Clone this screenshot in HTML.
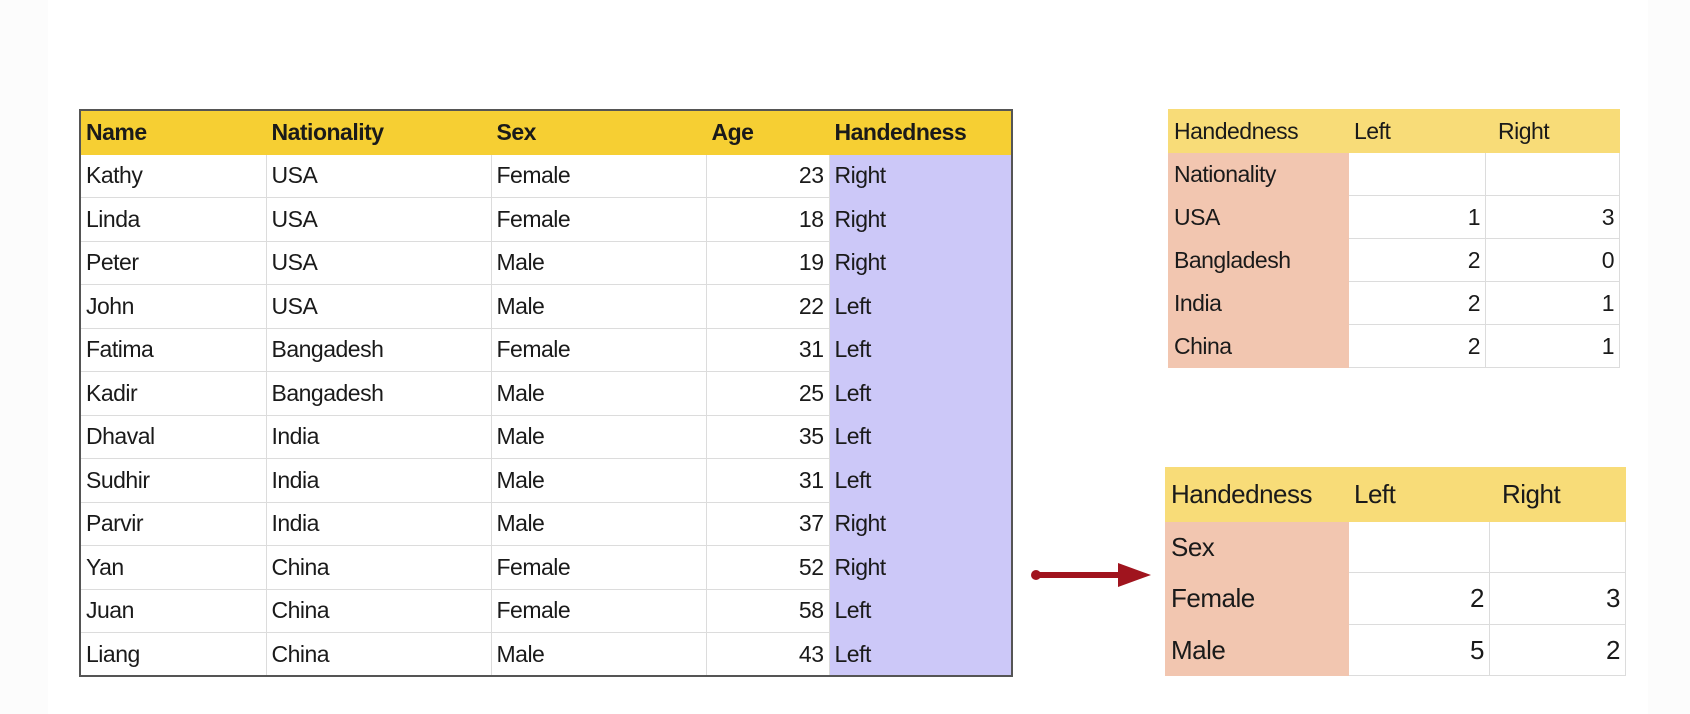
<!DOCTYPE html>
<html><head><meta charset="utf-8"><style>
body{margin:0;width:1690px;height:714px;background:#fcfcfc;position:relative;overflow:hidden;font-family:"Liberation Sans",sans-serif;color:#1a1a1a}
.t{position:absolute;border-collapse:collapse;table-layout:fixed}
.t td{padding:0 5px;font-size:23px;border:1.5px solid #dcdcdc;white-space:nowrap;overflow:hidden;letter-spacing:-0.5px}
.r{text-align:right}
</style></head><body>
<div style="position:absolute;left:48px;top:0;width:1600px;height:714px;background:#fff"></div>

<table class="t" style="left:79px;top:109px;width:932px;border:2px solid #555">
<colgroup><col style="width:186px"><col style="width:225px"><col style="width:215px"><col style="width:123px"><col style="width:183px"></colgroup>
<tr style="height:44px;background:#f6cf33;font-weight:bold"><td style="font-weight:bold;border-color:#f6cf33">Name</td><td style="font-weight:bold;border-color:#f6cf33">Nationality</td><td style="font-weight:bold;border-color:#f6cf33">Sex</td><td style="font-weight:bold;border-color:#f6cf33">Age</td><td style="font-weight:bold;border-color:#f6cf33">Handedness</td></tr>
<tr style="height:43.5px"><td>Kathy</td><td>USA</td><td>Female</td><td class="r">23</td><td style="background:#ccc8f8;border-color:#ccc8f8">Right</td></tr>
<tr style="height:43.5px"><td>Linda</td><td>USA</td><td>Female</td><td class="r">18</td><td style="background:#ccc8f8;border-color:#ccc8f8">Right</td></tr>
<tr style="height:43.5px"><td>Peter</td><td>USA</td><td>Male</td><td class="r">19</td><td style="background:#ccc8f8;border-color:#ccc8f8">Right</td></tr>
<tr style="height:43.5px"><td>John</td><td>USA</td><td>Male</td><td class="r">22</td><td style="background:#ccc8f8;border-color:#ccc8f8">Left</td></tr>
<tr style="height:43.5px"><td>Fatima</td><td>Bangadesh</td><td>Female</td><td class="r">31</td><td style="background:#ccc8f8;border-color:#ccc8f8">Left</td></tr>
<tr style="height:43.5px"><td>Kadir</td><td>Bangadesh</td><td>Male</td><td class="r">25</td><td style="background:#ccc8f8;border-color:#ccc8f8">Left</td></tr>
<tr style="height:43.5px"><td>Dhaval</td><td>India</td><td>Male</td><td class="r">35</td><td style="background:#ccc8f8;border-color:#ccc8f8">Left</td></tr>
<tr style="height:43.5px"><td>Sudhir</td><td>India</td><td>Male</td><td class="r">31</td><td style="background:#ccc8f8;border-color:#ccc8f8">Left</td></tr>
<tr style="height:43.5px"><td>Parvir</td><td>India</td><td>Male</td><td class="r">37</td><td style="background:#ccc8f8;border-color:#ccc8f8">Right</td></tr>
<tr style="height:43.5px"><td>Yan</td><td>China</td><td>Female</td><td class="r">52</td><td style="background:#ccc8f8;border-color:#ccc8f8">Right</td></tr>
<tr style="height:43.5px"><td>Juan</td><td>China</td><td>Female</td><td class="r">58</td><td style="background:#ccc8f8;border-color:#ccc8f8">Left</td></tr>
<tr style="height:43.5px"><td>Liang</td><td>China</td><td>Male</td><td class="r">43</td><td style="background:#ccc8f8;border-color:#ccc8f8">Left</td></tr>
</table>

<table class="t" style="left:1168px;top:109px;width:451px">
<colgroup><col style="width:180px"><col style="width:137px"><col style="width:134px"></colgroup>
<tr style="height:43px;background:#f8dc78"><td style="border-color:#f8dc78">Handedness</td><td style="border-color:#f8dc78">Left</td><td style="border-color:#f8dc78;padding-left:12px">Right</td></tr>
<tr style="height:43px"><td style="background:#f2c6b0;border-color:#f2c6b0">Nationality</td><td></td><td></td></tr>
<tr style="height:43px"><td style="background:#f2c6b0;border-color:#f2c6b0">USA</td><td class="r">1</td><td class="r">3</td></tr>
<tr style="height:43px"><td style="background:#f2c6b0;border-color:#f2c6b0">Bangladesh</td><td class="r">2</td><td class="r">0</td></tr>
<tr style="height:43px"><td style="background:#f2c6b0;border-color:#f2c6b0">India</td><td class="r">2</td><td class="r">1</td></tr>
<tr style="height:43px"><td style="background:#f2c6b0;border-color:#f2c6b0">China</td><td class="r">2</td><td class="r">1</td></tr>
</table>

<table class="t" style="left:1165px;top:467px;width:460px">
<colgroup><col style="width:183px"><col style="width:141px"><col style="width:136px"></colgroup>
<tr style="height:54px;background:#f8dc78"><td style="border-color:#f8dc78;font-size:26px">Handedness</td><td style="border-color:#f8dc78;font-size:26px">Left</td><td style="border-color:#f8dc78;font-size:26px;padding-left:12px">Right</td></tr>
<tr style="height:51px"><td style="background:#f2c6b0;border-color:#f2c6b0;font-size:26px">Sex</td><td></td><td></td></tr>
<tr style="height:52px"><td style="background:#f2c6b0;border-color:#f2c6b0;font-size:26px">Female</td><td class="r" style="font-size:26px">2</td><td class="r" style="font-size:26px">3</td></tr>
<tr style="height:51px"><td style="background:#f2c6b0;border-color:#f2c6b0;font-size:26px">Male</td><td class="r" style="font-size:26px">5</td><td class="r" style="font-size:26px">2</td></tr>
</table>

<svg style="position:absolute;left:1025px;top:555px" width="140" height="40">
<line x1="11" y1="20" x2="95" y2="20" stroke="#a0141e" stroke-width="6" stroke-linecap="round"/>
<circle cx="11" cy="20" r="5" fill="#a0141e"/>
<polygon points="93,8 126,20 93,32" fill="#a0141e"/>
</svg>
</body></html>
